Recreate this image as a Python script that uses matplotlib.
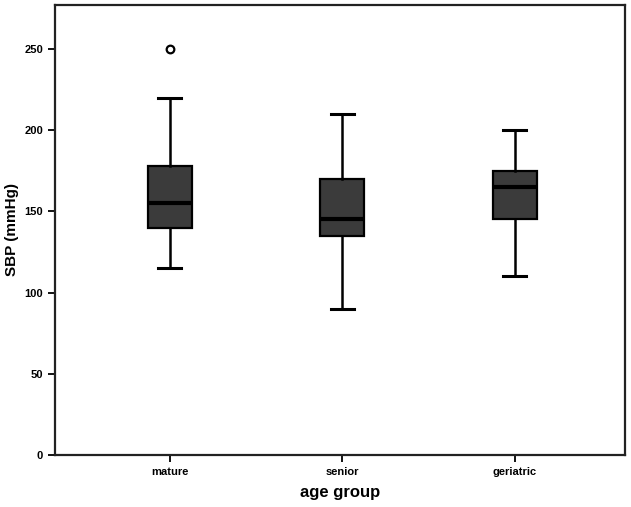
import matplotlib
matplotlib.use("Agg")
import matplotlib.pyplot as plt

categories = ["mature", "senior", "geriatric"]
whislo = [115, 90, 110]
q1 = [140, 135, 145]
med = [155, 145, 165]
q3 = [178, 170, 175]
whishi = [220, 210, 200]
outliers = [[250], [], []]
yticks = [0, 50, 100, 150, 200, 250]

plt.rcParams['font.family'] = ['Liberation Sans', 'DejaVu Sans']

fig = plt.figure(figsize=(6.31, 5.07), dpi=100)
ax = fig.add_axes([55/631, 1 - 455/507, (625-55)/631, (455-5)/507])

stats = []
for i, c in enumerate(categories):
    stats.append(dict(label=c, whislo=whislo[i], q1=q1[i], med=med[i],
                      q3=q3[i], whishi=whishi[i], fliers=outliers[i]))

ax.bxp(stats, positions=[1, 2, 3], widths=0.255, patch_artist=True,
       showfliers=True,
       boxprops=dict(facecolor='#3b3b3b', edgecolor='black', linewidth=1.6),
       medianprops=dict(color='black', linewidth=3),
       whiskerprops=dict(color='black', linewidth=1.8),
       capprops=dict(color='black', linewidth=2.2),
       capwidths=0.135,
       flierprops=dict(marker='o', markerfacecolor='white',
                       markeredgecolor='black', markersize=5.5,
                       markeredgewidth=1.6))

ax.set_xlim(0.335, 3.64)
ax.set_ylim(0, 277)
ax.set_yticks(yticks)
ax.set_yticklabels([str(t) for t in yticks], fontsize=8, fontweight='bold')
ax.set_xticks([1, 2, 3])
ax.set_xticklabels(categories, fontsize=8, fontweight='bold')
ax.tick_params(axis='both', length=5, width=1.3, color='black')
for s in ax.spines.values():
    s.set_linewidth(1.6)
    s.set_color('#222222')

ax.set_ylabel("SBP (mmHg)", fontsize=11, fontweight='bold', labelpad=4)
ax.set_xlabel("age group", fontsize=12, fontweight='bold', labelpad=6)

fig.savefig("out.png", dpi=100)
